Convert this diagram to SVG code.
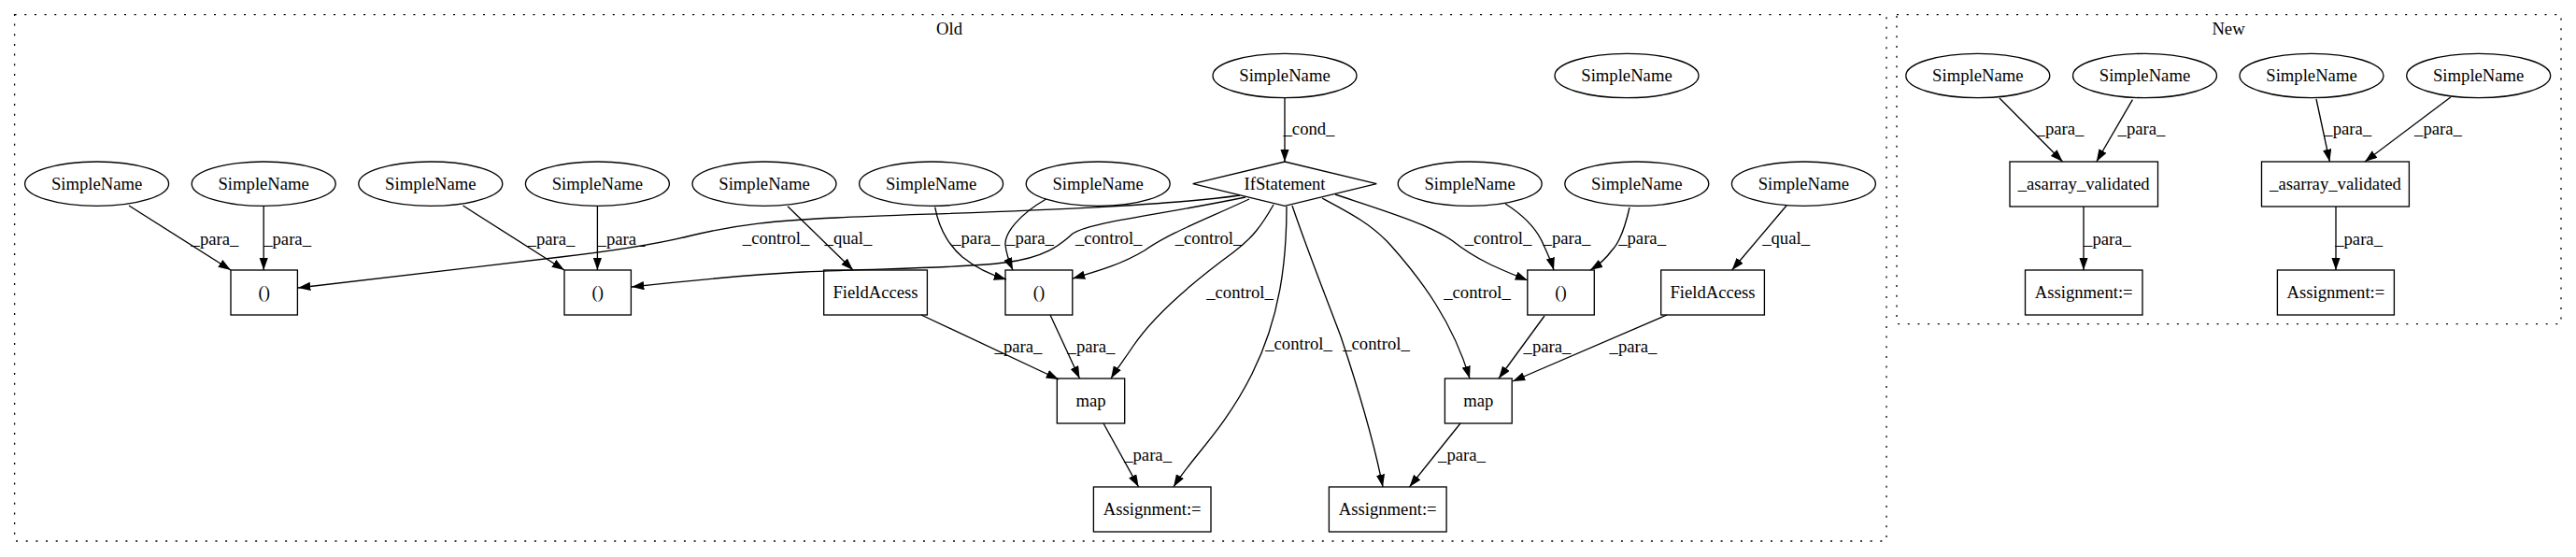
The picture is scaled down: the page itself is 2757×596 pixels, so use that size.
<svg xmlns="http://www.w3.org/2000/svg" width="2757" height="596" viewBox="0 0 2757 596">
<style>
text{font-family:"Liberation Serif","Times New Roman",serif;font-size:18.67px;fill:#000;text-anchor:middle}
.n ellipse,.n rect,.n polygon{fill:none;stroke:#000;stroke-width:1.33}
.cl{fill:none;stroke:#000;stroke-width:1.33;stroke-dasharray:2 8.67}
#edges path{fill:none;stroke:#000;stroke-width:1.33;marker-end:url(#ah)}
</style>
<defs>
<marker id="ah" markerUnits="userSpaceOnUse" markerWidth="14" markerHeight="10" refX="13.3" refY="4.67" orient="auto">
<path d="M0,0 L13.3,4.67 L0,9.33 z" fill="#000"/>
</marker>
</defs>
<rect width="2757" height="596" fill="#fff"/>
<g id="cluster_old">
<rect class="cl" x="15.6" y="15.6" width="2003.4" height="563.4"/>
<text x="1016" y="36.5">Old</text>
</g>
<g id="cluster_new">
<rect class="cl" x="2030" y="15.6" width="711" height="331"/>
<text x="2385" y="36.5">New</text>
</g>
<g id="edges">
<path d="M138,220 L247,289"/>
<path d="M282.2,220.7 L282.2,289"/>
<path d="M495.5,220 L604,289"/>
<path d="M639.4,220.7 L639.4,289"/>
<path d="M1327,209 C1220,224 1000,228 895,233 C830,236 790,240 740,252 C700,262 660,268 600,275 L319,308"/>
<path d="M1333,211 C1230,232 1165,238 1148,250 C1135,262 1118,276 1075,281 C1030,287 950,287 860,291 C800,294 740,300 676,307"/>
<path d="M1337,213 C1290,235 1250,250 1225,268 C1200,283 1175,290 1148,298"/>
<path d="M1363,219 C1350,242 1340,255 1320,270 C1290,292 1240,330 1213,370 C1203,385 1195,395 1189,405"/>
<path d="M1377,221 C1377,280 1370,340 1340,400 C1310,460 1275,490 1256,521"/>
<path d="M1383,220 C1400,270 1420,320 1435,360 C1455,420 1470,470 1480,521"/>
<path d="M1415,212 C1445,228 1468,240 1488,262 C1522,300 1555,345 1573,405"/>
<path d="M1429,208 C1480,225 1530,240 1555,258 C1580,278 1605,288 1635,300"/>
<path d="M1375,104.7 L1375,173"/>
<path d="M843,220.7 L913,289"/>
<path d="M1000.7,221.7 C1005,245 1015,262 1030,275 C1045,287 1060,294 1077,299"/>
<path d="M1119.6,213 C1090,230 1075,250 1076,262 C1077,272 1080,280 1084,289"/>
<path d="M1611,218 C1630,230 1645,245 1652,262 C1658,275 1661,282 1663,289"/>
<path d="M1744,222 C1740,240 1735,258 1725,268 C1718,278 1710,284 1702,289"/>
<path d="M1912,220 L1853.6,289"/>
<path d="M986,337 L1133,406"/>
<path d="M1124,337 L1155.5,405"/>
<path d="M1653,338 L1604,405"/>
<path d="M1784,337 L1619,408"/>
<path d="M1181,453 L1218.6,521"/>
<path d="M1563,453 L1508.5,521"/>
<path d="M2140,105 L2207.6,173"/>
<path d="M2282.4,106.7 L2243.8,173"/>
<path d="M2479,106 L2493.4,173"/>
<path d="M2622.8,104 L2531,173"/>
<path d="M2230,221 L2230,289"/>
<path d="M2500,221 L2500,289"/>
<text x="230" y="262">_para_</text>
<text x="307.6" y="262">_para_</text>
<text x="590" y="262">_para_</text>
<text x="665" y="262">_para_</text>
<text x="830.6" y="261">_control_</text>
<text x="1186.7" y="261">_control_</text>
<text x="1293.5" y="261">_control_</text>
<text x="1327" y="319">_control_</text>
<text x="1390" y="374">_control_</text>
<text x="1473" y="374">_control_</text>
<text x="1581" y="319">_control_</text>
<text x="1603.5" y="261">_control_</text>
<text x="1401" y="144">_cond_</text>
<text x="908" y="261">_qual_</text>
<text x="1044.6" y="261">_para_</text>
<text x="1102.5" y="261">_para_</text>
<text x="1677" y="261">_para_</text>
<text x="1757.6" y="261">_para_</text>
<text x="1911.6" y="261">_qual_</text>
<text x="1090" y="377">_para_</text>
<text x="1168" y="377">_para_</text>
<text x="1656" y="377">_para_</text>
<text x="1748" y="377">_para_</text>
<text x="1228.6" y="493">_para_</text>
<text x="1564.5" y="493">_para_</text>
<text x="2205" y="144">_para_</text>
<text x="2292" y="144">_para_</text>
<text x="2512.7" y="144">_para_</text>
<text x="2609.5" y="144">_para_</text>
<text x="2255.5" y="262">_para_</text>
<text x="2524.6" y="262">_para_</text>
</g>
<g id="sn_cond" class="n"><ellipse cx="1375" cy="81" rx="77" ry="23.7"/><text x="1375" y="87">SimpleName</text></g>
<g id="sn_iso" class="n"><ellipse cx="1741" cy="81" rx="77" ry="23.7"/><text x="1741" y="87">SimpleName</text></g>
<g id="sn1" class="n"><ellipse cx="103.6" cy="196.7" rx="77" ry="23.7"/><text x="103.6" y="203">SimpleName</text></g>
<g id="sn2" class="n"><ellipse cx="282.2" cy="196.7" rx="77" ry="23.7"/><text x="282.2" y="203">SimpleName</text></g>
<g id="sn3" class="n"><ellipse cx="460.8" cy="196.7" rx="77" ry="23.7"/><text x="460.8" y="203">SimpleName</text></g>
<g id="sn4" class="n"><ellipse cx="639.4" cy="196.7" rx="77" ry="23.7"/><text x="639.4" y="203">SimpleName</text></g>
<g id="sn5" class="n"><ellipse cx="818" cy="196.7" rx="77" ry="23.7"/><text x="818" y="203">SimpleName</text></g>
<g id="sn6" class="n"><ellipse cx="996.6" cy="196.7" rx="77" ry="23.7"/><text x="996.6" y="203">SimpleName</text></g>
<g id="sn7" class="n"><ellipse cx="1175.2" cy="196.7" rx="77" ry="23.7"/><text x="1175.2" y="203">SimpleName</text></g>
<g id="ifstmt" class="n"><polygon points="1276.7,196.7 1375,173 1473.3,196.7 1375,220.4"/><text x="1375" y="203">IfStatement</text></g>
<g id="sn8" class="n"><ellipse cx="1573.2" cy="196.7" rx="77" ry="23.7"/><text x="1573.2" y="203">SimpleName</text></g>
<g id="sn9" class="n"><ellipse cx="1751.8" cy="196.7" rx="77" ry="23.7"/><text x="1751.8" y="203">SimpleName</text></g>
<g id="sn10" class="n"><ellipse cx="1930.4" cy="196.7" rx="77" ry="23.7"/><text x="1930.4" y="203">SimpleName</text></g>
<g id="call1" class="n"><rect x="247" y="289" width="71.4" height="48"/><text x="282.7" y="319">()</text></g>
<g id="call2" class="n"><rect x="604" y="289" width="71.4" height="48"/><text x="639.7" y="319">()</text></g>
<g id="fa1" class="n"><rect x="881.7" y="289" width="110.7" height="48"/><text x="937" y="319">FieldAccess</text></g>
<g id="call3" class="n"><rect x="1076" y="289" width="71.8" height="48"/><text x="1112" y="319">()</text></g>
<g id="call4" class="n"><rect x="1634.8" y="289" width="71.5" height="48"/><text x="1670.5" y="319">()</text></g>
<g id="fa2" class="n"><rect x="1777.7" y="289" width="110.7" height="48"/><text x="1833" y="319">FieldAccess</text></g>
<g id="map1" class="n"><rect x="1131.3" y="405" width="72.4" height="48"/><text x="1167.5" y="435">map</text></g>
<g id="map2" class="n"><rect x="1546.4" y="405" width="71.8" height="48"/><text x="1582.3" y="435">map</text></g>
<g id="asg1" class="n"><rect x="1170.4" y="521" width="125.6" height="48"/><text x="1233.2" y="551">Assignment:=</text></g>
<g id="asg2" class="n"><rect x="1422.4" y="521" width="125.7" height="48"/><text x="1485.2" y="551">Assignment:=</text></g>
<g id="nsn1" class="n"><ellipse cx="2116.8" cy="81" rx="77" ry="23.7"/><text x="2116.8" y="87">SimpleName</text></g>
<g id="nsn2" class="n"><ellipse cx="2295.5" cy="81" rx="77" ry="23.7"/><text x="2295.5" y="87">SimpleName</text></g>
<g id="nsn3" class="n"><ellipse cx="2474" cy="81" rx="77" ry="23.7"/><text x="2474" y="87">SimpleName</text></g>
<g id="nsn4" class="n"><ellipse cx="2652.7" cy="81" rx="77" ry="23.7"/><text x="2652.7" y="87">SimpleName</text></g>
<g id="av1" class="n"><rect x="2151" y="173" width="158.5" height="48"/><text x="2230.2" y="203">_asarray_validated</text></g>
<g id="av2" class="n"><rect x="2420.5" y="173" width="157.9" height="48"/><text x="2499.5" y="203">_asarray_validated</text></g>
<g id="nasg1" class="n"><rect x="2167.5" y="289" width="125.5" height="48"/><text x="2230.2" y="319">Assignment:=</text></g>
<g id="nasg2" class="n"><rect x="2437.4" y="289" width="125" height="48"/><text x="2499.9" y="319">Assignment:=</text></g>
</svg>
